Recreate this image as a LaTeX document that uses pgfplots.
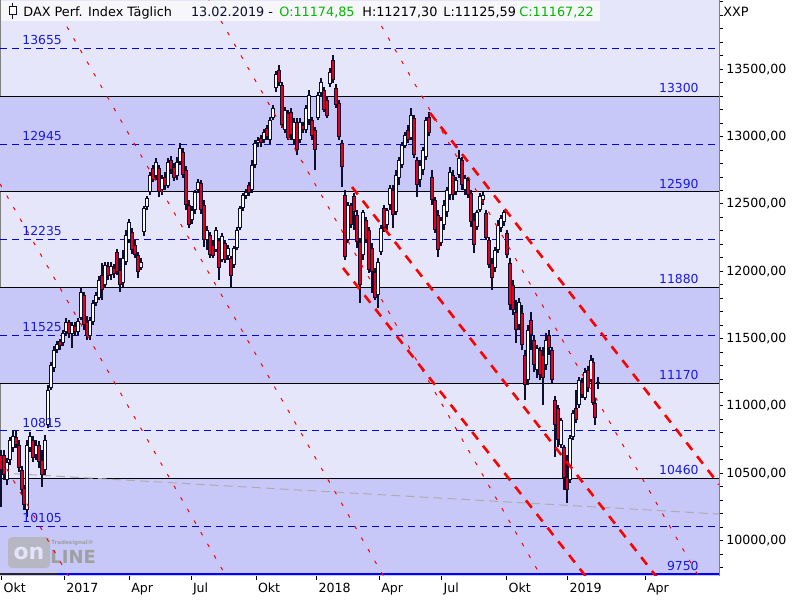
\documentclass[border=0pt]{standalone}
\usepackage{fontspec}
\setmainfont{DejaVu Sans}
\usepackage{pgfplots}
\pgfplotsset{compat=1.18}
\usepackage{pgfplotstable}

\definecolor{bandA}{RGB}{230,230,250}
\definecolor{bandB}{RGB}{200,200,248}
\definecolor{lvlblue}{RGB}{0,0,225}
\definecolor{lvltext}{RGB}{25,25,230}
\definecolor{candle}{RGB}{14,14,46}
\definecolor{candred}{RGB}{225,0,30}
\definecolor{trend}{RGB}{255,0,0}
\definecolor{titlegreen}{RGB}{0,185,0}
\definecolor{titlebg}{RGB}{246,246,251}

\tikzset{lvl/.style={text=lvltext, font=\fontsize{6.2}{7}\selectfont, inner sep=0pt, yshift=1.6pt}}

% daily DAX candles (x = position on the time axis)
\pgfplotstableread{
x o h l c
1 10636 10673 10250 10525
4 10636 10673 10451 10488
7 10451 10614 10414 10584
10 10599 10770 10562 10748
13 10688 10822 10659 10777
16 10770 10822 10688 10710
19 10710 10748 10510 10540
22 10525 10555 10339 10376
24 10391 10414 10228 10265
27 10228 10748 10176 10710
30 10688 10807 10659 10777
33 10748 10777 10584 10614
36 10636 10748 10599 10710
39 10710 10740 10540 10584
42 10599 10673 10399 10488
45 10525 10785 10488 10748
48 10859 11156 10837 11119
51 11134 11327 11119 11305
54 11282 11446 11252 11416
57 11416 11483 11393 11460
60 11483 11498 11416 11446
63 11468 11564 11446 11542
66 11550 11653 11520 11624
69 11624 11639 11505 11535
72 11535 11624 11431 11601
75 11594 11624 11520 11550
78 11550 11653 11527 11631
81 11653 11884 11639 11847
84 11824 11847 11564 11601
87 11624 11668 11490 11520
90 11520 11661 11490 11639
93 11624 11787 11601 11765
96 11765 11847 11743 11824
99 11802 11965 11787 11936
102 11973 12062 11787 11861
105 11898 12069 11876 12047
108 12039 12069 11936 11965
111 11973 12069 11936 12039
114 12025 12054 11950 11980
117 12143 12166 11973 11995
120 12010 12099 11846 11898
123 11913 12158 11884 12099
126 12069 12307 12047 12270
129 12233 12388 12210 12366
132 12292 12322 12129 12158
135 12195 12233 12099 12121
138 12121 12143 11950 11995
141 12025 12099 12010 12069
144 12292 12485 12262 12470
147 12478 12559 12455 12544
150 12589 12737 12567 12715
153 12767 12789 12663 12678
156 12708 12841 12678 12812
159 12767 12789 12552 12589
162 12604 12715 12567 12693
165 12700 12737 12604 12633
168 12633 12841 12619 12812
171 12827 12856 12723 12752
174 12775 12804 12671 12693
177 12708 12849 12678 12812
180 12812 12953 12789 12916
183 12886 12916 12693 12715
186 12752 12782 12455 12492
189 12492 12530 12322 12344
192 12381 12485 12351 12455
195 12455 12604 12426 12589
198 12604 12685 12582 12663
201 12656 12678 12426 12455
204 12492 12530 12181 12233
207 12233 12337 12158 12307
210 12270 12292 12099 12121
213 12195 12233 12099 12114
216 12158 12329 12143 12307
219 12233 12247 11936 12025
222 12084 12285 12069 12262
225 12210 12233 12062 12084
228 12114 12195 12084 12173
231 12099 12114 11876 11965
234 12047 12188 12025 12173
237 12173 12329 12158 12307
240 12322 12485 12307 12470
243 12470 12582 12448 12567
246 12559 12611 12537 12589
249 12641 12663 12559 12582
252 12604 12827 12582 12789
255 12789 12975 12767 12953
258 12953 12997 12923 12975
261 12990 13012 12923 12953
264 12975 13057 12953 13034
267 13064 13086 12975 12997
270 12975 13146 12945 13124
273 13138 13235 13124 13213
276 13361 13487 13331 13465
279 13495 13532 13376 13398
282 13383 13406 13064 13086
285 13049 13220 13027 13198
288 13175 13198 12975 12990
291 13183 13213 12975 13012
294 12975 13138 12938 13109
297 13109 13138 12864 12901
300 12975 13138 12953 13109
303 13086 13109 13027 13049
306 13049 13235 13027 13213
309 13124 13346 13086 13309
312 13124 13146 12975 13005
315 13049 13072 12752 12901
318 13138 13331 13124 13309
321 13324 13435 13294 13406
324 13346 13369 13183 13198
327 13272 13302 13138 13153
330 13391 13510 13369 13480
333 13569 13606 13398 13421
336 13361 13391 13213 13235
339 13250 13272 12975 12997
342 12953 12975 12626 12775
345 12567 12604 12084 12106
348 12233 12515 12210 12492
351 12492 12507 12322 12344
354 12559 12582 12307 12440
357 12418 12455 12173 12218
360 12218 12247 11765 11898
363 12121 12455 12084 12440
366 12381 12403 12210 12233
369 12307 12329 11988 12010
372 12173 12210 11839 11995
375 11995 12025 11787 11802
378 11824 12099 11728 12069
381 12143 12344 12121 12322
384 12470 12492 12292 12322
387 12344 12470 12307 12455
390 12492 12641 12455 12619
393 12604 12641 12322 12418
396 12440 12752 12418 12715
399 12693 12849 12641 12827
402 12789 12960 12767 12938
405 12930 13034 12916 13012
408 13049 13086 12953 12975
411 12990 13213 12975 13161
414 13138 13161 12841 12864
417 12827 12849 12552 12641
420 12678 12827 12626 12789
423 12752 12923 12715 12901
426 12849 13146 12827 13124
429 13146 13183 13005 13027
432 12700 12752 12492 12530
435 12530 12552 12285 12307
438 12418 12455 12106 12158
441 12210 12403 12188 12381
444 12344 12530 12307 12492
447 12440 12626 12403 12604
450 12567 12775 12530 12737
453 12715 12752 12530 12567
456 12589 12700 12567 12678
459 12715 12901 12693 12841
462 12827 12849 12604 12641
465 12604 12715 12567 12693
468 12678 12700 12544 12567
471 12582 12604 12329 12366
474 12381 12433 12136 12195
477 12329 12455 12307 12440
480 12455 12582 12440 12559
483 12530 12589 12492 12567
486 12433 12455 12233 12247
489 12233 12255 12025 12047
492 12062 12099 11861 11950
495 12025 12181 11995 12158
498 12158 12381 12136 12344
501 12322 12418 12292 12396
504 12366 12455 12336 12440
507 12285 12307 12099 12121
510 12062 12099 11713 11750
513 11898 11936 11676 11713
516 11698 11787 11468 11564
519 11601 11802 11564 11772
522 11691 11750 11416 11453
525 11379 11416 11045 11156
528 11193 11600 11156 11564
531 11639 11698 11416 11527
534 11490 11527 11252 11305
537 11267 11453 11208 11431
540 11416 11438 11193 11230
543 11379 11438 11007 11208
546 11305 11542 11267 11490
549 11527 11564 11379 11431
552 11416 11438 11171 11193
555 11045 11074 10621 10859
558 10985 11007 10696 10748
561 10711 10911 10688 10896
564 10696 10711 10376 10466
567 10473 10636 10280 10376
570 10451 10785 10428 10763
573 10770 10970 10748 10948
576 10985 11119 10874 10896
579 11007 11215 10985 11193
582 11178 11208 11059 11082
585 11059 11282 11045 11252
588 11267 11297 11104 11134
591 11193 11379 11178 11342
593 11327 11356 11007 11022
595 11022 11059 10859 10911
598 11174.85 11217.30 11125.59 11167.22
}\candles

\begin{document}
\begin{tikzpicture}
\path[use as bounding box] (0,0) rectangle (400pt,300pt);
\begin{axis}[
  at={(0pt,12pt)}, anchor=south west,
  width=359.5pt, height=288pt, scale only axis,
  xmin=0, xmax=719, ymin=9737.9, ymax=14014.5,
  axis background/.style={fill=bandA},
  axis line style={draw=gray, line width=0.5pt},
  xtick={1.7,64.3,129.3,191,256,316.7,379.3,441.7,506.7,567.7,645},
  xticklabels={Okt,2017,Apr,Jul,Okt,2018,Apr,Jul,Okt,2019,Apr},
  ytick={10000,10500,11000,11500,12000,12500,13000,13500},
  yticklabels={{10000,00},{10500,00},{11000,00},{11500,00},{12000,00},{12500,00},{13000,00},{13500,00}},
  minor ytick={9800,9900,...,14000},
  xtick pos=bottom, ytick pos=right, yticklabel pos=right,
  tick align=outside, major tick length=2pt, minor tick length=2pt,
  tick style={black, line width=0.5pt},
  tick label style={font=\fontsize{6.3}{7}\selectfont, text=black},
  xticklabel style={anchor=north west, inner sep=0pt, xshift=0.8pt, yshift=-1.5pt},
  yticklabel style={anchor=west, inner sep=0pt, xshift=1.5pt},
]
% alternating bands between the solid levels
\addplot[fill=bandB, draw=none] coordinates {(0,12590) (719,12590) (719,13300) (0,13300)} --cycle;
\addplot[fill=bandB, draw=none] coordinates {(0,11170) (719,11170) (719,11880) (0,11880)} --cycle;
\addplot[fill=bandB, draw=none] coordinates {(0,9737.9) (719,9737.9) (719,10460) (0,10460)} --cycle;

% watermark
\fill[gray!60, opacity=0.75, rounded corners=2pt] (axis cs:8,10027) rectangle (axis cs:50,9797);
\node[font=\bfseries\fontsize{11}{11}\selectfont, text=bandB!50!white, inner sep=0pt] at (axis cs:29,9905) {on};
\node[font=\bfseries\fontsize{9}{9}\selectfont, text=gray!75, anchor=west, inner sep=0pt] at (axis cs:50,9880) {LINE};
\node[font=\bfseries\fontsize{2.8}{3}\selectfont, text=gray!75, anchor=west, inner sep=0pt] at (axis cs:51,9985) {Tradesignal®};

% solid levels
\addplot[black, line width=0.5pt] coordinates {(0,13300) (719,13300)};
\addplot[black, line width=0.5pt] coordinates {(0,12590) (719,12590)};
\addplot[black, line width=0.5pt] coordinates {(0,11880) (719,11880)};
\addplot[black, line width=0.5pt] coordinates {(0,11170) (719,11170)};
\addplot[black, line width=0.5pt] coordinates {(0,10460) (719,10460)};
% dashed levels
\addplot[lvlblue, line width=0.5pt, dash pattern=on 3.5pt off 2.5pt] coordinates {(0,13655) (719,13655)};
\addplot[lvlblue, line width=0.5pt, dash pattern=on 3.5pt off 2.5pt] coordinates {(0,12945) (719,12945)};
\addplot[lvlblue, line width=0.5pt, dash pattern=on 3.5pt off 2.5pt] coordinates {(0,12235) (719,12235)};
\addplot[lvlblue, line width=0.5pt, dash pattern=on 3.5pt off 2.5pt] coordinates {(0,11525) (719,11525)};
\addplot[lvlblue, line width=0.5pt, dash pattern=on 3.5pt off 2.5pt] coordinates {(0,10815) (719,10815)};
\addplot[lvlblue, line width=0.5pt, dash pattern=on 3.5pt off 2.5pt] coordinates {(0,10105) (719,10105)};
\addplot[black!85, line width=1pt] coordinates {(0,9750) (57,9750)};
\addplot[blue, line width=1pt] coordinates {(57,9750) (719,9750)};

% grey line
\addplot[gray!65, line width=0.5pt, dash pattern=on 4.5pt off 2.5pt] coordinates {(0,10503) (719,10198)};

% candles: wicks, body outlines, body fills
\addplot[quiver={u=0, v=\thisrow{h}-\thisrow{l}}, draw=candle, line width=0.65pt] table[x=x, y=l] {\candles};
\addplot[quiver={u=0, v=\thisrow{c}-\thisrow{o}}, draw=candle, line width=1.75pt] table[x=x, y=o] {\candles};
\addplot[quiver={u=0, v=\thisrow{c}-\thisrow{o}-16}, draw=white, line width=0.6pt]
  table[x=x, y expr={\thisrow{c}-\thisrow{o}>16 ? \thisrow{o}+8 : nan}] {\candles};
\addplot[quiver={u=0, v=\thisrow{c}-\thisrow{o}+16}, draw=candred, line width=0.6pt]
  table[x=x, y expr={\thisrow{o}-\thisrow{c}>16 ? \thisrow{o}-8 : nan}] {\candles};

% thin trend channel
\addplot[trend, line width=0.5pt, dash pattern=on 1.8pt off 4.9pt] coordinates {(0,10620) (719,1358)};
\addplot[trend, line width=0.5pt, dash pattern=on 1.8pt off 4.9pt] coordinates {(0,12649) (719,3387)};
\addplot[trend, line width=0.5pt, dash pattern=on 1.8pt off 4.9pt] coordinates {(0,14678) (719,5416)};
\addplot[trend, line width=0.5pt, dash pattern=on 1.8pt off 4.9pt] coordinates {(0,16706) (719,7444)};
\addplot[trend, line width=0.5pt, dash pattern=on 1.8pt off 4.9pt] coordinates {(0,18735) (719,9473)};
% thick trend lines
\addplot[trend, line width=1.3pt, dash pattern=on 4.7pt off 4pt] coordinates {(430,13176) (719,10418)};
\addplot[trend, line width=1.3pt, dash pattern=on 4.7pt off 4pt] coordinates {(352,12626) (719,9138)};
\addplot[trend, line width=1.3pt, dash pattern=on 4.7pt off 4pt] coordinates {(343,12025) (719,8479)};

% level labels
\node[lvl, anchor=south west] at (axis cs:22,13655) {13655};
\node[lvl, anchor=south west] at (axis cs:22,12945) {12945};
\node[lvl, anchor=south west] at (axis cs:22,12235) {12235};
\node[lvl, anchor=south west] at (axis cs:22,11525) {11525};
\node[lvl, anchor=south west] at (axis cs:22,10815) {10815};
\node[lvl, anchor=south west] at (axis cs:22,10105) {10105};
\node[lvl, anchor=south east] at (axis cs:699,13300) {13300};
\node[lvl, anchor=south east] at (axis cs:699,12590) {12590};
\node[lvl, anchor=south east] at (axis cs:699,11880) {11880};
\node[lvl, anchor=south east] at (axis cs:699,11170) {11170};
\node[lvl, anchor=south east] at (axis cs:699,10460) {10460};
\node[lvl, anchor=south east] at (axis cs:699,9750) {9750};
\end{axis}

% title bar (pixel coordinates)
\begin{scope}[x=0.5pt, y=-0.5pt, shift={(0pt,300pt)}]
\fill[titlebg] (0.6,0.6) rectangle (600,21);
\draw[candle, line width=0.5pt] (12.5,3) -- (12.5,19);
\draw[candle, fill=white, line width=0.5pt] (9,7) rectangle (16,15);
\tikzset{tt/.style={anchor=base west, inner sep=0pt, font=\fontsize{6.4}{7}\selectfont}}
\node[tt, text=black] at (23,17) {DAX Perf. Index Täglich};
\node[tt, text=candle] at (190.7,17) {13.02.2019 -};
\node[tt, text=titlegreen] at (279,17) {O:11174,85};
\node[tt, text=black] at (362,17) {H:11217,30};
\node[tt, text=black] at (443,17) {L:11125,59};
\node[tt, text=titlegreen] at (519,17) {C:11167,22};
\node[tt, text=black] at (723,17) {XXP};
\end{scope}
\end{tikzpicture}
\end{document}
